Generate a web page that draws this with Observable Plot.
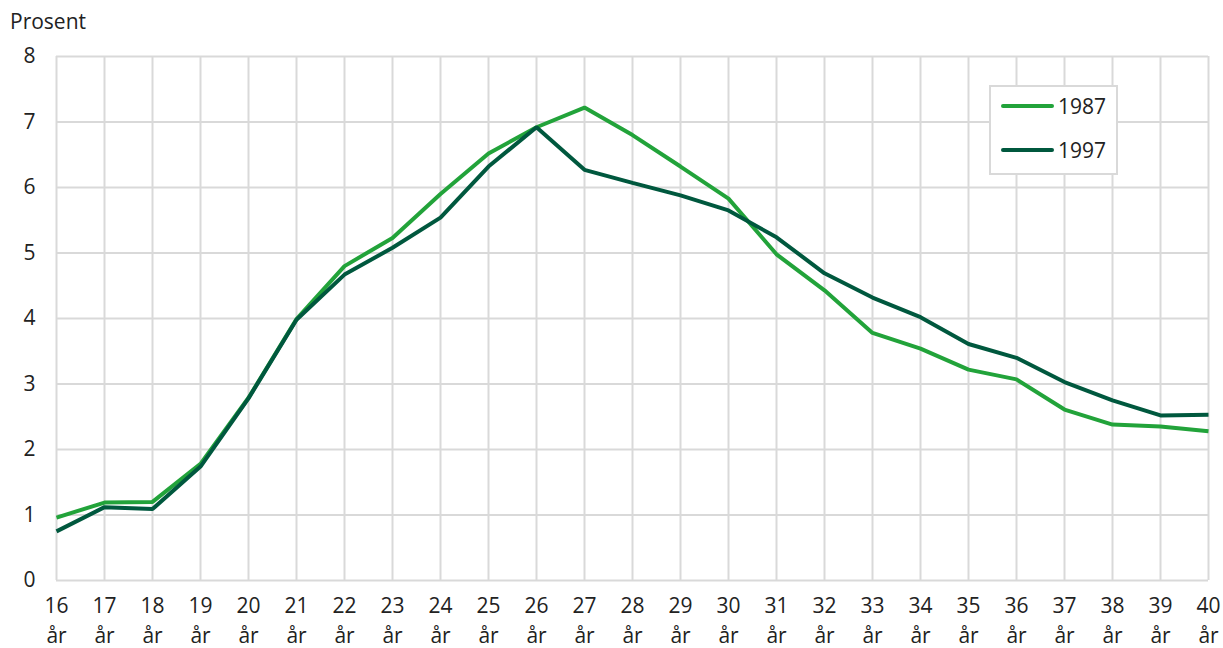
<!DOCTYPE html>
<html>
<head>
<meta charset="utf-8">
<script src="https://cdn.jsdelivr.net/npm/d3@7"></script>
<script src="https://cdn.jsdelivr.net/npm/@observablehq/plot@0.6"></script>
<style>
  html, body { margin: 0; padding: 0; background: #fff; }
  body { width: 1223px; height: 648px; position: relative; overflow: hidden; font-family: "Open Sans", sans-serif; color: #222; }
  #unit { position: absolute; left: 10px; top: 7px; font-size: 21px; }
  #chart { position: absolute; left: 0; top: 0; }
  #legend { position: absolute; left: 989px; top: 85px; width: 125px; height: 86px; border: 2px solid #d9d9d9; background: #fff; box-sizing: content-box; }
  .item { position: absolute; left: 10px; display: flex; align-items: center; font-size: 21px; }
  .sw { width: 53px; height: 4px; border-radius: 2px; margin-right: 4px; }
</style>
</head>
<body>
<div id="unit">Prosent</div>
<div id="chart"></div>
<div id="legend"></div>
<script>
const ages = [16,17,18,19,20,21,22,23,24,25,26,27,28,29,30,31,32,33,34,35,36,37,38,39,40];
const v1987 = [0.96,1.19,1.20,1.78,2.79,3.99,4.80,5.23,5.90,6.52,6.92,7.22,6.80,6.32,5.83,4.98,4.43,3.78,3.54,3.22,3.07,2.61,2.38,2.35,2.28];
const v1997 = [0.75,1.12,1.09,1.74,2.78,3.98,4.67,5.08,5.54,6.32,6.92,6.27,6.07,5.88,5.65,5.24,4.69,4.32,4.02,3.61,3.40,3.03,2.75,2.52,2.53];
const seriesNames = ["1987", "1997"];
const seriesColors = ["#22a33a", "#00583e"];
const yTicks = [0,1,2,3,4,5,6,7,8];

const rows = [];
ages.forEach((a, i) => {
  rows.push({age: a, value: v1987[i], series: seriesNames[0]});
  rows.push({age: a, value: v1997[i], series: seriesNames[1]});
});

const plot = Plot.plot({
  width: 1223,
  height: 648,
  marginTop: 56,
  marginBottom: 68,
  marginLeft: 56,
  marginRight: 15,
  style: {fontFamily: "Open Sans, sans-serif", fontSize: "21px", color: "#222", background: "transparent", overflow: "visible"},
  x: {domain: [16, 40]},
  y: {domain: [0, 8]},
  color: {domain: seriesNames, range: seriesColors},
  marks: [
    Plot.gridX(ages, {stroke: "#d9d9d9", strokeOpacity: 1, strokeWidth: 2}),
    Plot.gridY(yTicks, {stroke: "#d9d9d9", strokeOpacity: 1, strokeWidth: 2}),
    Plot.axisY(yTicks, {tickSize: 0, tickPadding: 21, label: null, fontSize: 21, fill: "#222", tickFormat: d => String(d)}),
    Plot.axisX(ages, {tickSize: 0, tickPadding: 12, label: null, fontSize: 21, fill: "#222", lineHeight: 1.4, tickFormat: d => d + "\når"}),
    Plot.line(rows, {x: "age", y: "value", z: "series", stroke: "series", strokeWidth: 4, strokeLinejoin: "miter", strokeLinecap: "butt"})
  ]
});
document.getElementById("chart").appendChild(plot);

const legend = document.getElementById("legend");
seriesNames.forEach((name, i) => {
  const item = document.createElement("div");
  item.className = "item";
  item.style.top = (i === 0 ? 5 : 49) + "px";
  const sw = document.createElement("div");
  sw.className = "sw";
  sw.style.background = seriesColors[i];
  const t = document.createElement("span");
  t.textContent = name;
  item.appendChild(sw);
  item.appendChild(t);
  legend.appendChild(item);
});
</script>
</body>
</html>
